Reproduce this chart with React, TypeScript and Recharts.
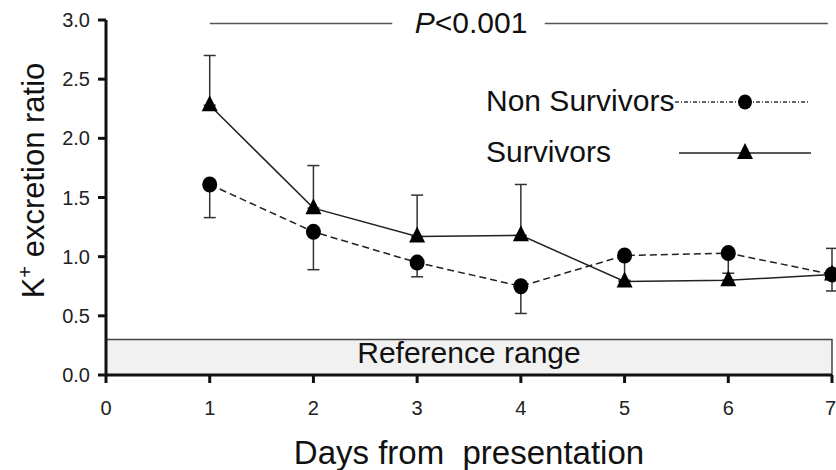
import React from "react";
import {
  ComposedChart, Line, XAxis, YAxis, ErrorBar, ReferenceArea, ReferenceLine,
  ReferenceDot, Legend, Label,
} from "recharts";

const FONT = '"Liberation Sans", Arial, Helvetica, sans-serif';

const days = [1, 2, 3, 4, 5, 6, 7];
const nonSurvivors = [1.61, 1.21, 0.95, 0.75, 1.01, 1.03, 0.85];
const nonSurvivorsLower = [1.33, 0.89, 0.83, 0.52, 0.8, 0.86, 0.71];
const survivors = [2.28, 1.41, 1.17, 1.18, 0.79, 0.8, 0.85];
const survivorsUpper = [2.7, 1.77, 1.52, 1.61, 0.79, 0.8, 1.07];

const xTicks = [0, 1, 2, 3, 4, 5, 6, 7];
const yTicks = [0, 0.5, 1, 1.5, 2, 2.5, 3];
const referenceRange = [0, 0.3];
const pValueText = "<0.001";
const pLineY = 2.97;
const pSegments = [[1, 2.76], [4.23, 6.96]];
const pLabelX = 3.52;

const data = days.map((d, i) => ({
  day: d,
  ns: nonSurvivors[i],
  nsErr: [+(nonSurvivors[i] - nonSurvivorsLower[i]).toFixed(2), 0],
  s: survivors[i],
  sErr: [0, +(survivorsUpper[i] - survivors[i]).toFixed(2)],
}));

const circleDot = (p: any) => (
  <ellipse key={`c-${p.index}`} cx={p.cx} cy={p.cy} rx={7.5} ry={8} fill="#000" />
);

const triangleDot = (p: any) => (
  <polygon
    key={`t-${p.index}`}
    points={`${p.cx},${p.cy - 10} ${p.cx - 8},${p.cy + 6} ${p.cx + 8},${p.cy + 6}`}
    fill="#000"
  />
);

// tick = mark + label, drawn together so size and weight are under control
const XTick = (p: any) => {
  const last = p.payload.value === xTicks[xTicks.length - 1];
  return (
    <g>
      <line x1={p.x} x2={p.x} y1={p.y - 27} y2={p.y - 19} stroke="#111" strokeWidth={3} />
      <text x={last ? p.x + 4 : p.x} y={p.y + 13} textAnchor={last ? "end" : "middle"}
        fontSize={20} fontFamily={FONT} fill="#222">
        {p.payload.value}
      </text>
    </g>
  );
};

const YTick = (p: any) => (
  <g>
    <line x1={p.x + 7} x2={p.x + 15} y1={p.y} y2={p.y} stroke="#111" strokeWidth={3} />
    <text x={p.x - 1} y={p.y + 7} textAnchor="end" fontSize={20} fontFamily={FONT} fill="#222">
      {Number(p.payload.value).toFixed(1)}
    </text>
  </g>
);

const YTitle = ({ viewBox }: any) => {
  const x = viewBox.x + 44;
  const y = viewBox.y + viewBox.height / 2 - 17;
  return (
    <text x={x} y={y} transform={`rotate(-90, ${x}, ${y})`} textAnchor="middle"
      fontSize={31} fontFamily={FONT} fill="#111">
      K<tspan dy={-12} fontSize={20}>+</tspan>
      <tspan dy={12}> excretion ratio</tspan>
    </text>
  );
};

const XTitle = ({ viewBox }: any) => (
  <text x={viewBox.x + viewBox.width / 2} y={viewBox.y + 89} textAnchor="middle"
    fontSize={33} fontFamily={FONT} fill="#111" style={{ whiteSpace: "pre" }}>
    {"Days from  presentation"}
  </text>
);

const PLabel = ({ viewBox }: any) => (
  <text x={viewBox.x + viewBox.width / 2} y={viewBox.y + viewBox.height / 2 + 9}
    textAnchor="middle" fontSize={30} fontFamily={FONT} fill="#111">
    <tspan fontStyle="italic">P</tspan>
    {pValueText}
  </text>
);

const RangeLabel = ({ viewBox }: any) => (
  <text x={viewBox.x + viewBox.width / 2} y={viewBox.y + viewBox.height / 2 + 6}
    textAnchor="middle" fontSize={30} fontFamily={FONT} fill="#111">
    Reference range
  </text>
);

function LegendBox() {
  return (
    <svg width={345} height={95} style={{ display: "block", overflow: "visible" }}>
      <text x={6} y={31} fontSize={30} fontFamily={FONT} fill="#111">Non Survivors</text>
      <line x1={195} x2={330} y1={22} y2={22} stroke="#333" strokeWidth={1.3}
        strokeDasharray="4 2 1 2" />
      <ellipse cx={265} cy={22} rx={7} ry={7.5} fill="#000" />
      <text x={6} y={82} fontSize={30} fontFamily={FONT} fill="#111">Survivors</text>
      <line x1={199} x2={331} y1={73} y2={73} stroke="#222" strokeWidth={1.5} />
      <polygon points="265,63 257,79 273,79" fill="#000" />
    </svg>
  );
}

export default function App() {
  return (
    <div style={{ position: "absolute", left: 0, top: 0, width: 836, height: 470, background: "#fff" }}>
      <ComposedChart width={836} height={470} data={data}
        margin={{ top: 20, right: 4, bottom: 0, left: 0 }}>
        <ReferenceArea x1={0} x2={7} y1={referenceRange[0]} y2={referenceRange[1]}
          fill="#f1f1f1" fillOpacity={1} stroke="#444" strokeWidth={1.5}
          label={<RangeLabel />} />
        <XAxis dataKey="day" type="number" domain={[0, 7]} ticks={xTicks}
          height={95} tickSize={8} tickMargin={19}
          axisLine={false} tickLine={false} tick={<XTick />}>
          <Label content={<XTitle />} />
        </XAxis>
        <YAxis type="number" domain={[0, 3]} ticks={yTicks} width={106}
          tickSize={8} tickMargin={7}
          axisLine={false} tickLine={false} tick={<YTick />}>
          <Label content={<YTitle />} />
        </YAxis>
        <ReferenceLine x={0} stroke="#111" strokeWidth={3} />
        <ReferenceLine y={0} stroke="#111" strokeWidth={3} />
        {pSegments.map(([a, b], i) => (
          <ReferenceLine key={i} segment={[{ x: a, y: pLineY }, { x: b, y: pLineY }]}
            stroke="#555" strokeWidth={1.5} />
        ))}
        <ReferenceDot x={pLabelX} y={pLineY} r={0} fill="none" stroke="none"
          label={<PLabel />} />
        <Line dataKey="ns" type="linear" stroke="#222" strokeWidth={1.5}
          strokeDasharray="7 4" dot={circleDot} activeDot={false}
          isAnimationActive={false}>
          <ErrorBar dataKey="nsErr" direction="y" width={6} stroke="#333" strokeWidth={1.5} />
        </Line>
        <Line dataKey="s" type="linear" stroke="#222" strokeWidth={1.5}
          dot={triangleDot} activeDot={false} isAnimationActive={false}>
          <ErrorBar dataKey="sErr" direction="y" width={6} stroke="#333" strokeWidth={1.5} />
        </Line>
        <Legend layout="horizontal" verticalAlign="middle" align="center"
          content={<LegendBox />}
          wrapperStyle={{ top: 80, left: 480, width: 345, height: 95 }} />
      </ComposedChart>
    </div>
  );
}
